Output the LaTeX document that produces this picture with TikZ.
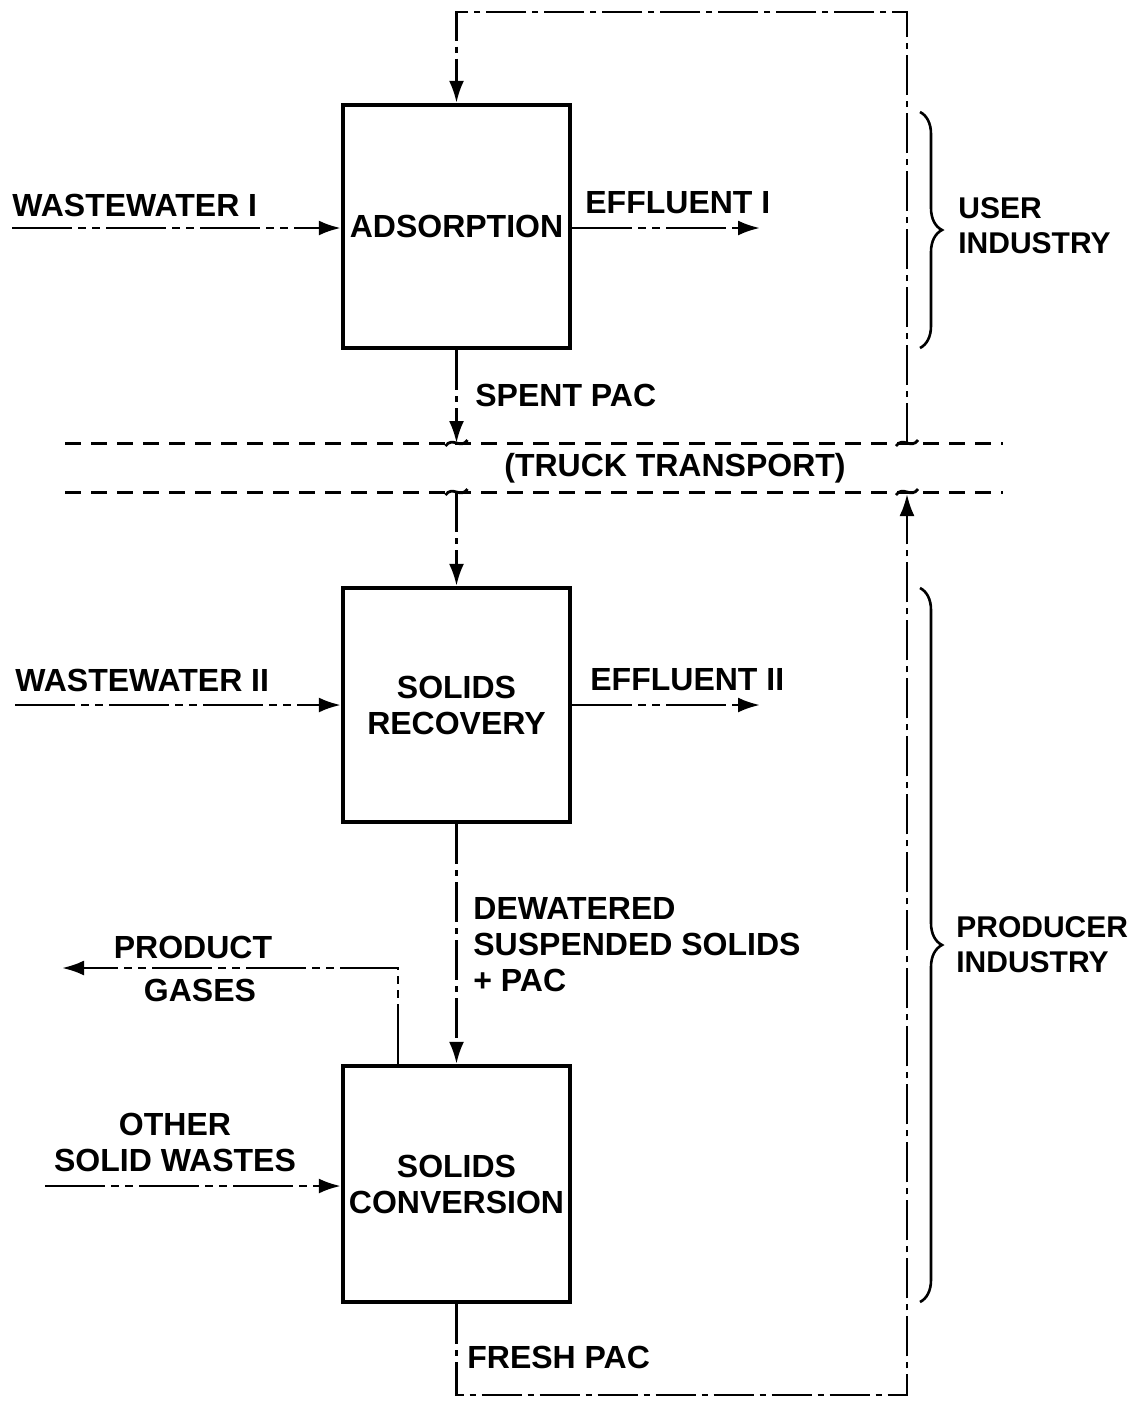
\documentclass[tikz,border=0pt]{standalone}
\usepackage{fontspec}
\setmainfont{Liberation Sans}
\usetikzlibrary{arrows.meta,calc,decorations.pathreplacing}
\begin{document}
\begin{tikzpicture}[x=0.5pt,y=-0.5pt,
  font=\fontsize{16}{18}\selectfont\bfseries,
  box/.style={draw,line width=2.2pt,minimum width=113.5pt,inner sep=0pt,align=center},
  flow/.style={line width=1.4pt,dash pattern=on 30pt off 3pt on 4pt off 3pt on 4pt off 3pt},
  vflow/.style={line width=1.4pt,dash pattern=on 20pt off 3pt on 3pt off 3pt},
  arr/.style={-{Latex[length=11pt,width=7.5pt]}},
  truck/.style={line width=1.5pt,dash pattern=on 8pt off 5pt},
  lbl/.style={inner sep=0pt,anchor=west,align=left},
  clbl/.style={inner sep=0pt,align=center},
  brc/.style={decorate,decoration={brace,amplitude=11pt},line width=1.3pt},
  curl/.style={line width=1.4pt}
]
\useasboundingbox (0,0) rectangle (1138,1410);

% boxes
\node[box,minimum height=121.5pt] (ads) at (456.5,226.5) {ADSORPTION};
\node[box,minimum height=117pt] (rec) at (456.5,705) {SOLIDS\\RECOVERY};
\node[box,minimum height=118pt] (conv) at (456.5,1184) {SOLIDS\\CONVERSION};

% coordinates
\coordinate (tl) at (456.5,12);
\coordinate (tr) at (907,12);
\coordinate (tu) at (907,443);
\coordinate (su) at (456.5,443);
\coordinate (sd) at (456.5,492);
\coordinate (td) at (907,494);
\coordinate (tdm) at (907,492);
\coordinate (bl) at (456.5,1395);
\coordinate (br) at (907,1395);
\coordinate (t1l) at (65,443);
\coordinate (t1r) at (1003,443);
\coordinate (t2l) at (65,492);
\coordinate (t2r) at (1003,492);
\coordinate (w1) at (12,228);
\coordinate (e1) at (760,228);
\coordinate (w2) at (15,705);
\coordinate (e2) at (760,705);
\coordinate (osw) at (45,1186);
\coordinate (pg) at ($(conv.north)+(-58.5,0)$);
\coordinate (pgl) at (62,968);

% truck transport lines
\draw[truck] (t1l) -- (t1r);
\draw[truck] (t2l) -- (t2r);

% PAC loop
\draw[vflow,arr] (tu) -- (tr) -- (tl) -- (ads.north);
\draw[vflow,arr] (ads.south) -- (su);
\draw[vflow,arr] (sd) -- (rec.north);
\draw[vflow,arr] (rec.south) -- (conv.north);
\draw[vflow,arr] (conv.south) -- (bl) -- (br) -- (td);

% break marks on truck lines
\foreach \c in {tu,su,sd,tdm}{
  \draw[curl] ($(\c)+(-11,3)$) .. controls ($(\c)+(-4,-7)$) and ($(\c)+(4,7)$) .. ($(\c)+(11,-3)$);
}

% inputs and outputs
\draw[flow,arr] (w1) -- (w1 -| ads.west);
\draw[flow,arr] (e1 -| ads.east) -- (e1);
\draw[flow,arr] (w2) -- (w2 -| rec.west);
\draw[flow,arr] (e2 -| rec.east) -- (e2);
\draw[flow,arr] (osw) -- (osw -| conv.west);
\draw[flow,arr] (pg) |- (pgl);

% braces
\draw[brc] (920,112) -- (920,348);
\draw[brc] (920,588) -- (920,1302);

% labels
\node[lbl] (lw1) at (12,205) {WASTEWATER I};
\node[lbl] (le1) at (585,203) {EFFLUENT I};
\node[lbl] (lw2) at (15,680) {WASTEWATER II};
\node[lbl] (le2) at (590,680) {EFFLUENT II};
\node[lbl] (lsp) at (475,395) {SPENT PAC};
\node[clbl] (ltr) at (675,468) {(TRUCK TRANSPORT)};
\node[lbl] (ldw) at (473,945) {DEWATERED\\SUSPENDED SOLIDS\\+ PAC};
\node[clbl] (lpr) at (193,947) {PRODUCT};
\node[clbl] (lga) at (200,990) {GASES};
\node[clbl] (los) at (175,1142) {OTHER\\SOLID WASTES};
\node[lbl] (lfp) at (467,1357) {FRESH PAC};
\node[lbl,font=\fontsize{15}{17.5}\selectfont\bfseries] (lus) at (958,226) {USER\\INDUSTRY};
\node[lbl,font=\fontsize{15}{17.5}\selectfont\bfseries] (lpi) at (956,945) {PRODUCER\\INDUSTRY};
\end{tikzpicture}
\end{document}
